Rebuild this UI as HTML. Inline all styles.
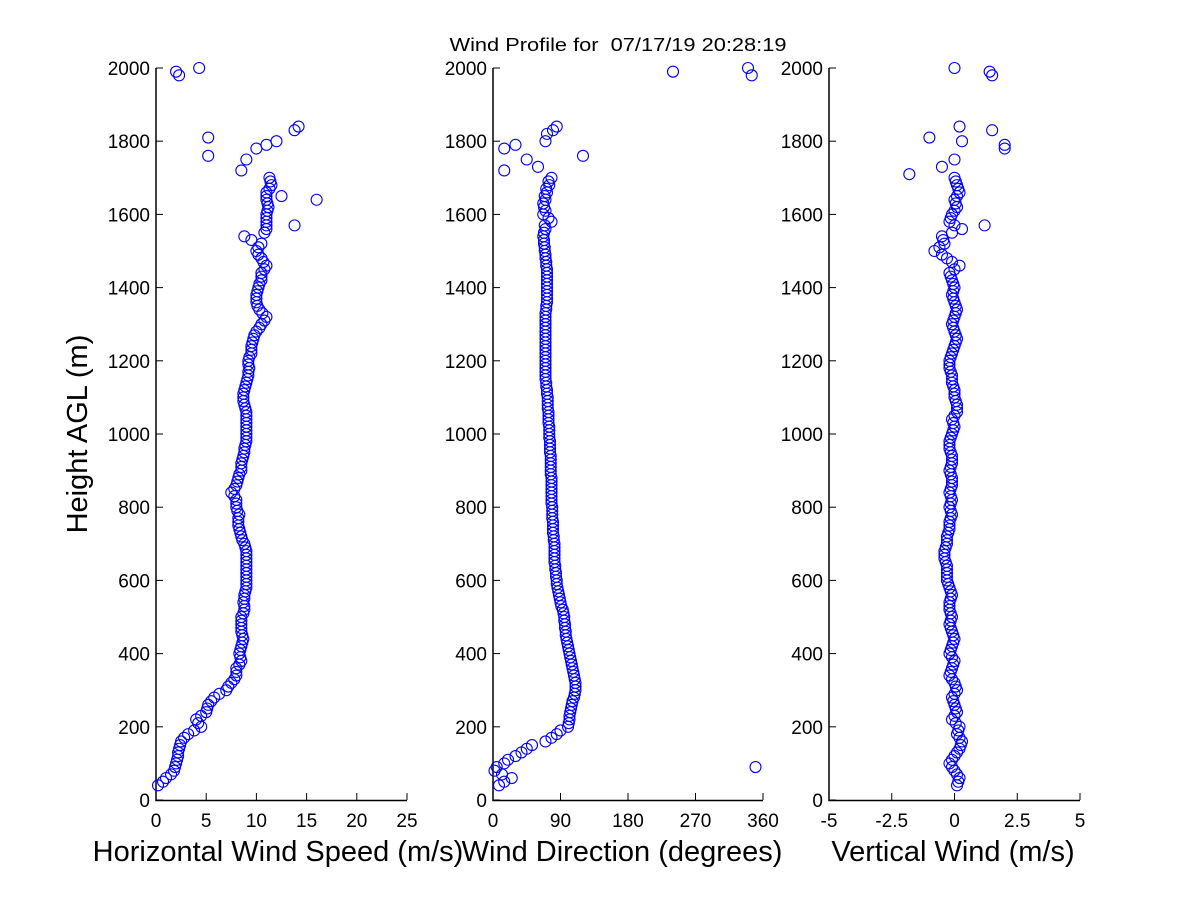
<!DOCTYPE html>
<html><head><meta charset="utf-8"><style>
body{margin:0;background:#fff;width:1200px;height:900px;overflow:hidden}
svg{font-family:"Liberation Sans",sans-serif}
</style></head><body>
<svg id="c" width="1200" height="900">
<text x="618" y="51" font-size="18" text-anchor="middle" textLength="337" lengthAdjust="spacingAndGlyphs" xml:space="preserve">Wind Profile for  07/17/19 20:28:19</text>
<text transform="translate(87,434) rotate(-90)" font-size="29" text-anchor="middle">Height AGL (m)</text>
</svg>
<script>
const heights=[40,60,80,100,120,140,160,180,200,220,240,260,280,300,320,340,360,380,400,420,440,460,480,500,520,540,560,580,600,620,640,660,680,700,720,740,760,780,800,820,840,860,880,900,920,940,960,980,1000,1020,1040,1060,1080,1100,1120,1140,1160,1180,1200,1220,1240,1260,1280,1300,1320,1340,1360,1380,1400,1420,1440,1460,1480,1500,1520,1540,1560,1580,1600,1620,1640,1660,1680,1700];
const speed=[0.2,1,1.8,2,2.2,2.3,2.5,3.2,4.5,4,5,5.2,5.8,7,7.5,8,8,8.5,8.3,8.5,8.7,8.5,8.5,8.5,8.8,8.7,8.8,9,9,9,9,9,9,8.8,8.5,8.3,8.2,8.3,8,8,7.5,8,8.2,8.5,8.5,8.7,8.8,9,9,9,9,9,8.8,8.7,8.8,9,9.2,9.3,9.2,9.5,9.5,9.7,10,10.5,11,10.3,10,10,10.2,10.5,10.5,11,10.5,10,10.5,8.8,11,11,11,11.2,11,11,11.5,11.3];
const direction=[8,25,2,15,30,45,70,85,100,102,103,105,108,110,110,108,106,104,102,100,98,97,96,95,93,90,88,86,85,84,83,82,82,82,81,80,80,79,79,78,78,78,78,77,77,77,76,76,75,75,74,74,73,73,72,71,70,70,70,70,70,70,70,70,70,71,72,72,72,72,72,71,70,69,68,67,70,78,67,68,70,72,75,78];
const vertical=[0.1,0.2,0,-0.2,0,0.2,0.3,0.1,0.2,-0.1,0.1,0,-0.1,0.1,0,-0.2,-0.1,0,-0.2,-0.1,0,-0.1,-0.2,-0.1,-0.2,-0.2,-0.1,-0.2,-0.3,-0.3,-0.3,-0.4,-0.4,-0.3,-0.3,-0.2,-0.2,-0.1,-0.2,-0.1,-0.2,-0.1,-0.1,-0.2,-0.1,-0.1,-0.2,-0.2,-0.1,0,-0.1,0.1,0.1,0,0,-0.1,-0.1,-0.2,-0.2,-0.1,0,0.1,0,-0.1,0,0.1,0,-0.1,0,-0.1,-0.2,0.2,-0.3,-0.8,-0.4,-0.5,0.3,-0.2,-0.1,0.1,0,0.2,0.1,0];
const heights2=[50,70,90,110,130,150,170,190,210,230,250,270,290,310,330,350,370,390,410,430,450,470,490,510,530,550,570,590,610,630,650,670,690,710,730,750,770,790,810,830,850,870,890,910,930,950,970,990,1010,1030,1050,1070,1090,1110,1130,1150,1170,1190,1210,1230,1250,1270,1290,1310,1330,1350,1370,1390,1410,1430,1450,1470,1490,1510,1530,1550,1570,1590,1610,1630,1650,1670,1690];
const speed2=[0.7,1.5,1.9,2.1,2.2,2.4,2.8,3.8,4.2,4.5,5.1,5.5,6.3,7.2,7.8,8,8.3,8.4,8.4,8.6,8.6,8.5,8.5,8.7,8.8,8.8,8.9,9,9,9,9,9,8.9,8.6,8.4,8.2,8.2,8.1,8,7.8,7.8,8.1,8.3,8.5,8.6,8.8,8.9,9,9,9,9,8.9,8.7,8.7,8.9,9.1,9.2,9.2,9.3,9.5,9.6,9.8,10.3,10.8,10.6,10.1,10,10.1,10.3,10.5,10.8,10.7,10.2,10.2,9.5,10.8,11,11,11.1,11.1,11,11.3,11.4];
const direction2=[15,12,5,20,38,52,78,90,101,102,104,106,109,110,109,107,105,103,101,99,97,96,95,94,91,89,87,85,84,83,82,82,82,81,80,80,79,79,78,78,78,78,77,77,77,76,76,75,75,74,74,73,73,72,71,70,70,70,70,70,70,70,70,70,70,71,72,72,72,72,72,71,70,69,68,68,69,74,70,67,69,71,74];
const vertical2=[0.15,0.1,-0.1,-0.1,0.1,0.25,0.2,0.15,0.05,0,0.05,-0.05,0,0.05,-0.1,-0.15,-0.05,-0.1,-0.15,-0.05,-0.05,-0.15,-0.15,-0.15,-0.2,-0.15,-0.15,-0.25,-0.3,-0.3,-0.35,-0.4,-0.35,-0.3,-0.25,-0.2,-0.15,-0.15,-0.15,-0.15,-0.15,-0.1,-0.15,-0.15,-0.1,-0.15,-0.2,-0.15,-0.05,-0.05,0,0.1,0.05,0,-0.05,-0.1,-0.15,-0.2,-0.15,-0.05,0.05,0.05,-0.05,-0.05,0.05,0.05,-0.05,-0.05,-0.05,-0.15,0,-0.1,-0.5,-0.6,-0.45,-0.1,0,-0.15,0,0.05,0.1,0.15,0.05];
const outlierHeights=[1720,1750,1780,1790,1800,1810,1760,1830,1840,1570,1640,1650,1990,1980,2000];
const outlierSpeed=[8.5,9,10,11,12,5.2,5.2,13.8,14.2,13.8,16,12.5,2,2.3,4.3];
const outlierDirHeights=[1720,1750,1780,1790,1800,1820,1830,1840,1760,1730,1990,2000,1980,90];
const outlierDir=[15,45,15,30,70,72,80,85,120,60,240,340,345,350];
const outlierVertHeights=[1710,1810,1730,1750,1570,1830,1780,1790,1800,1840,1990,1980,2000];
const outlierVert=[-1.8,-1,-0.5,0,1.2,1.5,2,2,0.3,0.2,1.4,1.5,0];
const yTicks=[0,200,400,600,800,1000,1200,1400,1600,1800,2000];
function trim(h,v){const n=Math.min(h.length,v.length);return [h.slice(0,n),v.slice(0,n)];}
const panels=[
 {name:'speed',x0:156,x1:407,min:0,max:25,ticks:[0,5,10,15,20,25],labels:['0','5','10','15','20','25'],title:'Horizontal Wind Speed (m/s)',tx:278,
  sets:[[heights,speed],[heights2,speed2],[outlierHeights,outlierSpeed]]},
 {name:'direction',x0:493,x1:763,min:0,max:360,ticks:[0,90,180,270,360],labels:['0','90','180','270','360'],title:'Wind Direction (degrees)',tx:622,
  sets:[[heights,direction],[heights2,direction2],[outlierDirHeights,outlierDir]]},
 {name:'vertical',x0:829,x1:1080,min:-5,max:5,ticks:[-5,-2.5,0,2.5,5],labels:['-5','-2.5','0','2.5','5'],title:'Vertical Wind (m/s)',tx:953,
  sets:[[heights,vertical],[heights2,vertical2],[outlierVertHeights,outlierVert]]}
];
const NS='http://www.w3.org/2000/svg';
const svg=document.getElementById('c');
const Y=h=>800-(h/2000)*732;
function mk(t,a,p){const e=document.createElementNS(NS,t);for(const k in a)e.setAttribute(k,a[k]);(p||svg).appendChild(e);return e;}
panels.forEach(p=>{
 const X=v=>p.x0+(v-p.min)/(p.max-p.min)*(p.x1-p.x0);
 const g=mk('g',{});
 
 
 const ax=mk('path',{d:`M${p.x0},68 V800.5 H${p.x1}`,stroke:'#000',fill:'none','stroke-width':1.5},g);
 
 
 yTicks.forEach(t=>{
  mk('line',{x1:p.x0,x2:p.x0+7,y1:Y(t),y2:Y(t),stroke:'#000','stroke-width':1},g);
  const tl=mk('text',{x:p.x0-6,y:Y(t)+7,'font-size':19,'text-anchor':'end'},g);
  tl.textContent=t;
  
  
 });
 p.ticks.forEach((t,i)=>{
  mk('line',{x1:X(t),x2:X(t),y1:800,y2:793,stroke:'#000','stroke-width':1},g);
  const tl=mk('text',{x:X(t),y:827,'font-size':19,'text-anchor':'middle'},g);
  tl.textContent=p.labels[i];
  
  
 });
 const tt=mk('text',{x:p.tx,y:861,'font-size':29,'text-anchor':'middle'},g);
 tt.textContent=p.title;
 
 
 p.sets.forEach(s=>{
  const [hs,vs]=trim(s[0],s[1]);
  hs.forEach((h,i)=>{
   const c=mk('circle',{cx:X(vs[i]),cy:Y(h),r:5.5,fill:'none',stroke:'#0000ff','stroke-width':1.1},g);
   
   
  });
 });
});
</script>
</body></html>
